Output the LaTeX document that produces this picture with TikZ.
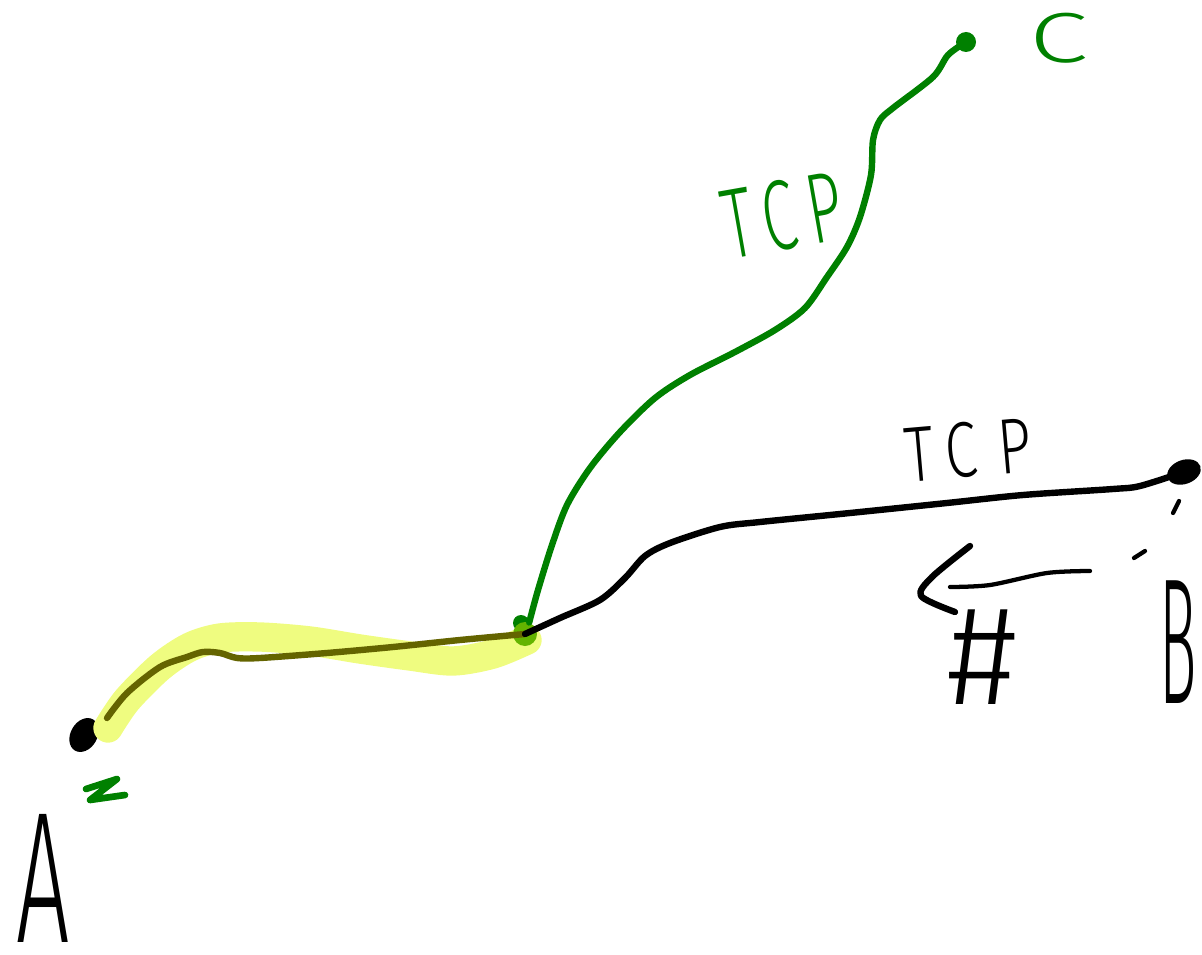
\documentclass[tikz,border=0pt]{standalone}
\usepackage{fontspec}
\usepackage{graphicx}
\usetikzlibrary{shapes.geometric}
\newfontfamily\hand{Fira Sans Light}
\definecolor{pengreen}{RGB}{0,128,0}
\definecolor{hilite}{RGB}{239,252,128}
\definecolor{oliveink}{RGB}{100,100,0}
\definecolor{dotgreen}{RGB}{100,180,0}
\tikzset{
  ink/.style={line width=4.8pt, line cap=round, line join=round},
  thinink/.style={line width=3.2pt, line cap=round, line join=round},
  lbl/.style={inner sep=0pt, font=\hand},
  blob/.style={inner sep=0pt, fill, draw=none},
  hl/.style={hilite, line width=22pt, line cap=round, line join=round},
}
\begin{document}
\begin{tikzpicture}[x=0.75pt,y=-0.75pt]
\useasboundingbox (0,0) rectangle (1202,955);

% end points and junction
\node[blob, ellipse, minimum width=20pt, minimum height=27pt, rotate=-30] (dotA) at (84,735) {};
\node[blob, ellipse, minimum width=26pt, minimum height=18pt, rotate=20] (dotB) at (1184,472) {};
\node[blob, circle, fill=pengreen, minimum size=15pt] (dotC) at (966,42) {};
\coordinate (a0) at (107,718);

% highlight
\draw[hl] plot[smooth] coordinates {(108,728) (127,700) (160,667) (190,647) (220,638) (260,637) (310,641) (360,649) (410,656) (453,661) (493,654) (527,640)};

\fill[pengreen] (521,623) circle[radius=8];
\node[blob, circle, fill=dotgreen, minimum size=18pt] (J) at (525,634) {};

% black path A -- junction (under highlight) and junction -- B
\draw[ink, oliveink] plot[smooth] coordinates {(a0) (127,693) (160,667) (187,657) (203,652) (220,653) (237,658) (260,658) (327,653) (393,647) (460,640) (J)};
\draw[ink] plot[smooth] coordinates {(J) (560,618) (600,600) (625,578) (645,556) (670,543) (720,527) (760,522) (850,513) (947,503) (1023,495) (1113,489) (1140,486) (dotB)};

% green path junction -- C
\draw[ink, pengreen] plot[smooth] coordinates {(J.70) (538,590) (552,545) (567,505) (590,468) (620,432) (655,398) (690,375) (735,352) (775,330) (805,308) (827,277) (847,247) (860,217) (871,175) (873,140) (880,120) (893,108) (933,77) (948,55) (dotC)};

% green mark near A
\draw[pengreen, line width=5pt, line cap=round, line join=round] (86,789) -- (117,779) -- (90,800) -- (125,795);

% arrow towards left
\coordinate (arT) at (1090,571);
\coordinate (arH) at (950,587);
\draw[thinink] plot[smooth] coordinates {(arT) (1047,573) (990,585) (arH)};
\draw[ink] plot[smooth] coordinates {(970,546) (932,577) (921,596) (955,612)};

% small ticks near B
\draw[thinink] (1173,513) -- (1179,501);
\draw[thinink] (1134,558) -- (1145,551);

% labels
\node[lbl] (A) at (43,878) {\resizebox{40pt}{96pt}{A}};
\node[lbl] (B) at (1178,642) {\resizebox{28pt}{92pt}{B}};
\node[lbl, text=pengreen] (C) at (1059,38) {\resizebox{44pt}{37pt}{C}};
\node[lbl, text=pengreen, rotate=10] (tcpC) at (783,215) {\resizebox{90pt}{52pt}{T\hspace{0.15em}C\hspace{0.2em}P}};
\node[lbl, rotate=5] (tcpB) at (968,450) {\resizebox{95pt}{41pt}{T\hspace{0.2em}C\hspace{0.35em}P}};
\node[lbl] (hash) at (982,657) {\resizebox{52pt}{71pt}{\#}};
\end{tikzpicture}
\end{document}
